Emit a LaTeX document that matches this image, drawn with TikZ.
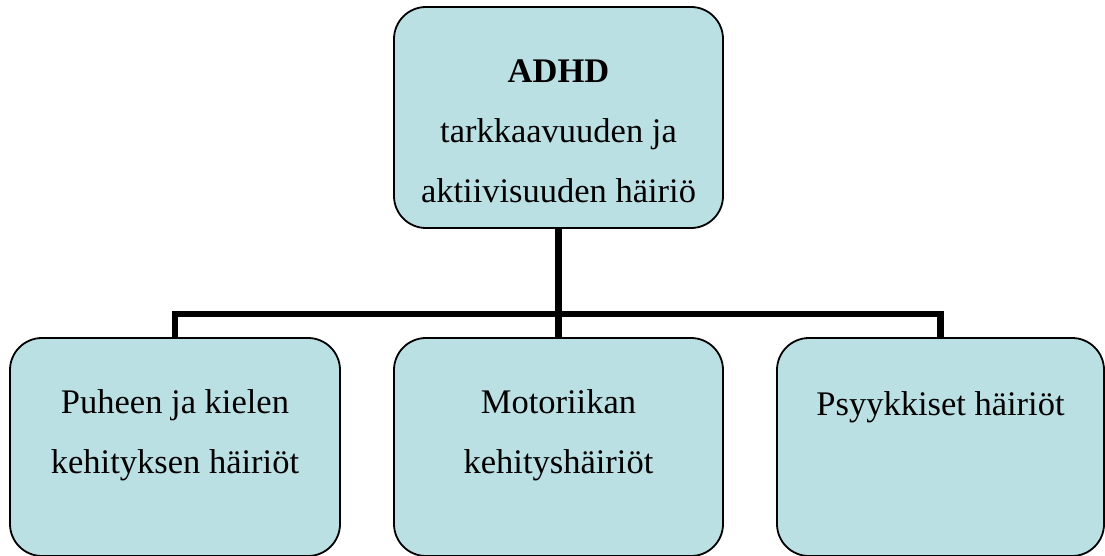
\documentclass[tikz,border=0pt]{standalone}
\usepackage{fontspec}
\setmainfont{Liberation Serif}
\definecolor{boxblue}{RGB}{186,224,228}
\begin{document}
\begin{tikzpicture}[x=1pt,y=-1pt,
  box/.style={draw=black, line width=1.8pt, fill=boxblue, rounded corners=32pt, inner sep=0pt},
  lbl/.style={anchor=base, inner sep=0pt, font=\fontsize{34.5}{40}\selectfont},
  conn/.style={draw=black, line width=6.5pt, line join=miter}]
\useasboundingbox (0,0) rectangle (1105,556);
\node[box, minimum width=329pt, minimum height=221pt] (top) at (558.5,117.5) {};
\node[box, minimum width=330pt, minimum height=218pt] (left) at (175,447) {};
\node[box, minimum width=329pt, minimum height=218pt] (mid) at (558.5,447) {};
\node[box, minimum width=327pt, minimum height=218pt] (right) at (940.5,447) {};
\coordinate (bus) at (0,314);
\draw[conn] (top.south) -- (mid.north);
\draw[conn] (left.north) -- (left.north |- bus) -- (right.north |- bus) -- (right.north);
\node[lbl] (t1) at (558.5,83) {\textbf{ADHD}};
\node[lbl] (t2) at (558.5,143) {tarkkaavuuden ja};
\node[lbl] (t3) at (558.5,203) {aktiivisuuden häiriö};
\node[lbl] (l1) at (175,413) {Puheen ja kielen};
\node[lbl] (l2) at (175,473) {kehityksen häiriöt};
\node[lbl] (m1) at (558.5,413) {Motoriikan};
\node[lbl] (m2) at (558.5,473) {kehityshäiriöt};
\node[lbl] (r1) at (940.5,415) {Psyykkiset häiriöt};
\end{tikzpicture}
\end{document}
